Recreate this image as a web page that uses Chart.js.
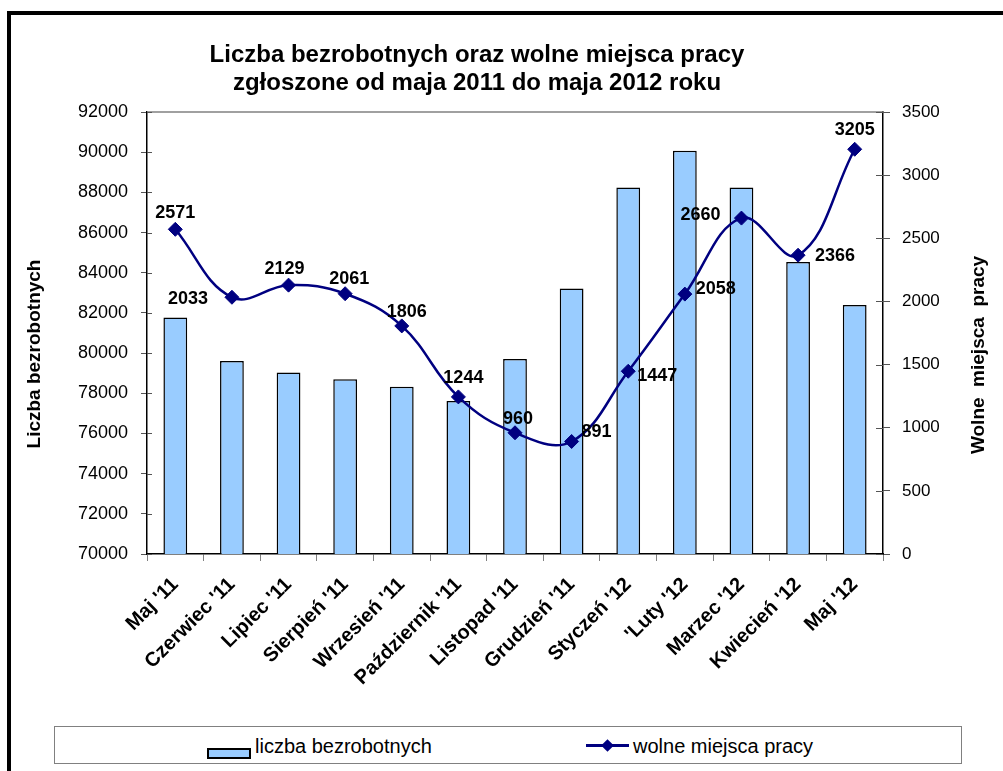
<!DOCTYPE html>
<html lang="pl">
<head>
<meta charset="utf-8">
<title>Liczba bezrobotnych oraz wolne miejsca pracy</title>
<script src="https://cdn.jsdelivr.net/npm/chart.js@4/dist/chart.umd.min.js"></script>
<style>
    html, body { margin: 0; padding: 0; background: #fff; overflow: hidden; }
    body { width: 1003px; height: 771px; position: relative; font-family: "Liberation Sans", Arial, sans-serif; }
    #frame { position: absolute; left: 7px; top: 11px; width: 1100px; height: 900px; border: 4px solid #000; box-sizing: border-box; }
    #chart { position: absolute; left: 0; top: 0; }
    #legend { position: absolute; left: 54px; top: 726px; width: 908px; height: 38px; border: 1px solid #808080; box-sizing: border-box; background: #fff; }
    .lg-text { position: absolute; font-size: 20px; line-height: 20px; color: #000; white-space: nowrap; }
    .sw-bar { position: absolute; width: 44px; height: 11px; background: #99ccff; border: 2px solid #000; box-sizing: border-box; }
    .sw-line { position: absolute; width: 43px; height: 3px; background: #000080; }
    .sw-dia { position: absolute; width: 9px; height: 9px; background: #000080; transform: rotate(45deg); }
</style>
</head>
<body>
<div id="frame"></div>
<canvas id="chart" width="1003" height="720"></canvas>
<div id="legend">
    <div class="sw-bar" style="left:152px; top:21px;"></div>
    <div class="lg-text" style="left:200px; top:9px;">liczba bezrobotnych</div>
    <div class="sw-line" style="left:531px; top:17px;"></div>
    <div class="sw-dia" style="left:548px; top:14px;"></div>
    <div class="lg-text" style="left:578px; top:9px;">wolne miejsca pracy</div>
</div>
<script>
    // dane
    const months = ["Maj '11", "Czerwiec '11", "Lipiec '11", "Sierpień '11", "Wrzesień '11", "Październik '11",
        "Listopad '11", "Grudzień '11", "Styczeń '12", "'Luty '12", "Marzec '12", "Kwiecień '12", "Maj '12"];
    const unemployed = [81770, 79610, 79030, 78700, 78330, 77620, 79700, 83210, 88245, 90070, 88245, 84530, 82390];
    const vacancies = [2571, 2033, 2129, 2061, 1806, 1244, 960, 891, 1447, 2058, 2660, 2366, 3205];
    const leftTicks = { min: 70000, max: 92000, step: 2000 };
    const rightTicks = { min: 0, max: 3500, step: 500 };

    // przesuniecia etykiet wzgledem punktow [dx, dy]
    const labelOffsets = [[0,-16],[-44,2],[-4,-16],[4,-15],[5,-14],[5,-19],[3,-14],[25,-9],[29,5],[31,-5],[-41,-3],[37,1],[0,-19]];

    const FONT = '"Liberation Sans", Arial, sans-serif';

    // krotkie kreski podzialki wchodzace do srodka (jak w Excelu)
    function innerTicks(ctx, scale, x, dir, len) {
        scale.ticks.forEach(t => {
            const y = Math.round(scale.getPixelForValue(t.value)) + 0.5;
            ctx.beginPath();
            ctx.moveTo(x, y);
            ctx.lineTo(x + dir * len, y);
            ctx.stroke();
        });
    }

    const extraText = {
        id: 'extraText',
        afterDatasetsDraw(chart) {
            const ctx = chart.ctx;
            const area = chart.chartArea;
            ctx.save();
            ctx.strokeStyle = '#808080';
            ctx.lineWidth = 1.5;
            ctx.beginPath();
            ctx.moveTo(area.left, area.top);
            ctx.lineTo(area.right, area.top);
            ctx.stroke();

            ctx.strokeStyle = '#555';
            ctx.lineWidth = 1;
            innerTicks(ctx, chart.scales.y, area.left, 1, 5);
            innerTicks(ctx, chart.scales.y1, area.right, -1, 7);

            const meta = chart.getDatasetMeta(1);
            ctx.font = 'bold 18px ' + FONT;
            ctx.fillStyle = '#000';
            ctx.textAlign = 'center';
            ctx.textBaseline = 'middle';
            meta.data.forEach((pt, i) => {
                const off = labelOffsets[i];
                ctx.fillText(String(vacancies[i]), pt.x + off[0], pt.y + off[1]);
            });
            ctx.restore();
        },
        afterDraw(chart) {
            const ctx = chart.ctx;
            ctx.save();
            ctx.fillStyle = '#000';
            ctx.textAlign = 'center';
            ctx.textBaseline = 'middle';
            ctx.font = 'bold 24px ' + FONT;
            ctx.fillText('Liczba bezrobotnych oraz wolne miejsca pracy', 477, 55);
            ctx.fillText('zgłoszone od maja 2011 do maja 2012 roku', 477, 83);

            ctx.font = 'bold 19px ' + FONT;
            ctx.save();
            ctx.translate(35, 354);
            ctx.rotate(-Math.PI / 2);
            ctx.fillText('Liczba bezrobotnych', 0, 0);
            ctx.restore();
            ctx.save();
            ctx.translate(979, 355);
            ctx.rotate(-Math.PI / 2);
            ctx.fillText('Wolne  miejsca  pracy', 0, 0);
            ctx.restore();
            ctx.restore();
        }
    };

    new Chart(document.getElementById('chart'), {
        type: 'bar',
        data: {
            labels: months,
            datasets: [
                {
                    type: 'bar',
                    label: 'liczba bezrobotnych',
                    data: unemployed,
                    yAxisID: 'y',
                    backgroundColor: '#99ccff',
                    borderColor: '#000',
                    borderWidth: 1.5,
                    barPercentage: 0.42,
                    categoryPercentage: 1,
                    order: 1
                },
                {
                    type: 'line',
                    label: 'wolne miejsca pracy',
                    data: vacancies,
                    yAxisID: 'y1',
                    borderColor: '#000080',
                    borderWidth: 2.5,
                    tension: 0.4,
                    fill: false,
                    pointStyle: 'rectRot',
                    pointRadius: 7,
                    pointBackgroundColor: '#000080',
                    pointBorderColor: '#000080',
                    pointBorderWidth: 1,
                    order: 0
                }
            ]
        },
        options: {
            responsive: false,
            animation: false,
            layout: { padding: { top: 112, left: 0, right: 0, bottom: 0 } },
            plugins: {
                legend: { display: false },
                tooltip: { enabled: false },
                title: { display: false }
            },
            scales: {
                x: {
                    offset: true,
                    grid: { offset: true, drawOnChartArea: false, tickLength: 7, color: '#808080' },
                    border: { color: '#000', width: 1.5 },
                    ticks: {
                        autoSkip: false, minRotation: 45, maxRotation: 45,
                        color: '#000', padding: 12,
                        font: { family: FONT, size: 20, weight: 'bold' }
                    },
                    afterFit: s => { s.height = 166; }
                },
                y: {
                    position: 'left',
                    min: leftTicks.min, max: leftTicks.max,
                    grid: { drawOnChartArea: false, tickLength: 6, color: '#555' },
                    border: { color: '#000', width: 1.5 },
                    ticks: {
                        stepSize: leftTicks.step, color: '#000', padding: 13,
                        font: { family: FONT, size: 18 },
                        callback: v => String(v)
                    },
                    afterFit: s => { s.width = 147; }
                },
                y1: {
                    position: 'right',
                    min: rightTicks.min, max: rightTicks.max,
                    grid: { drawOnChartArea: false, tickLength: 7, color: '#555' },
                    border: { color: '#000', width: 1.5 },
                    ticks: {
                        stepSize: rightTicks.step, color: '#000', padding: 12,
                        font: { family: FONT, size: 17 },
                        callback: v => String(v)
                    },
                    afterFit: s => { s.width = 120; }
                }
            }
        },
        plugins: [extraText]
    });
</script>
</body>
</html>
